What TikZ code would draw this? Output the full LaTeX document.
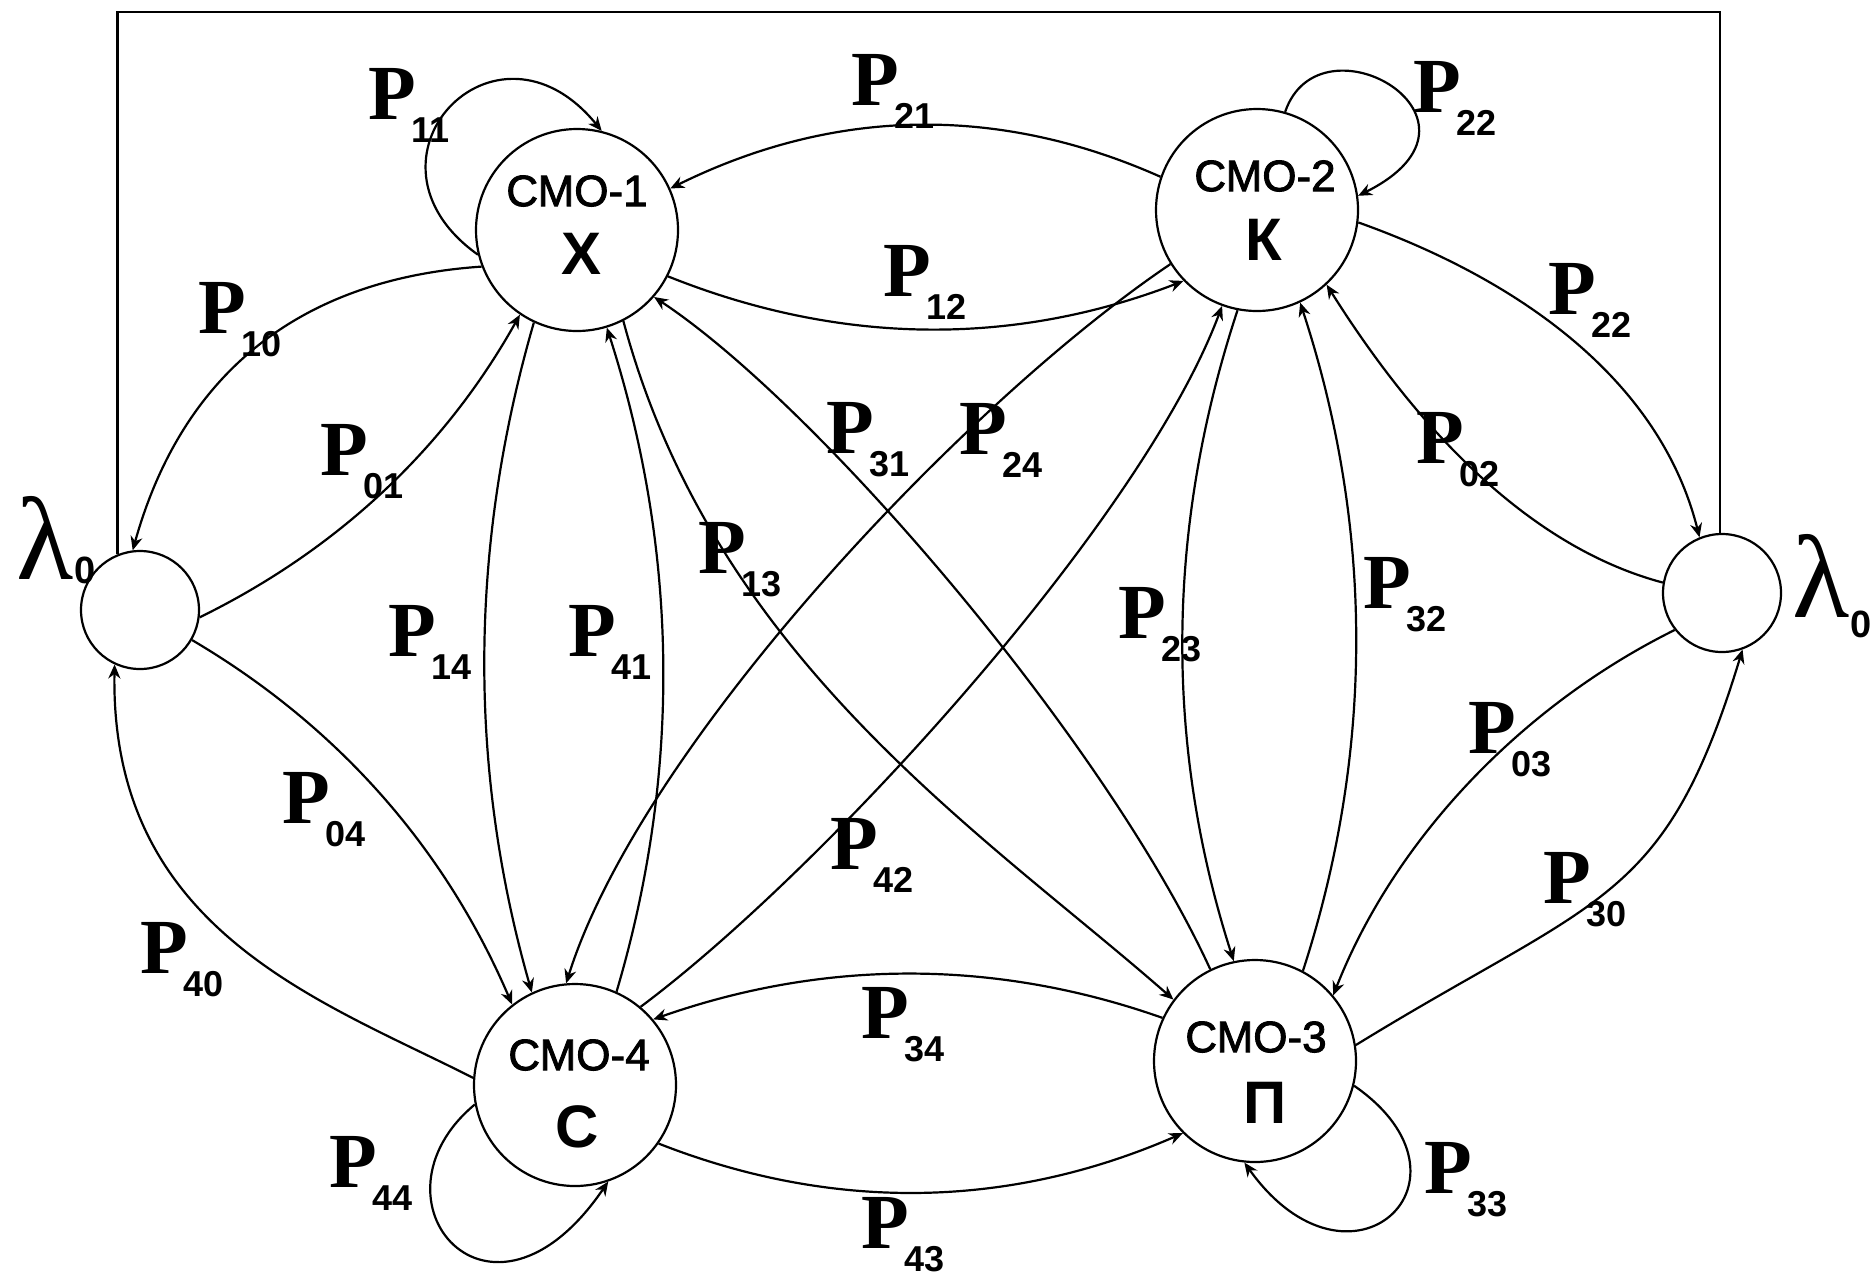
\documentclass[tikz,border=0pt]{standalone}
\usepackage{fontspec}
\setmainfont{Liberation Serif}
\newfontfamily\labsans{Liberation Sans}
\newfontfamily\namesans{Liberation Sans}[FakeBold=2]
\usetikzlibrary{arrows.meta}

% transition probability label: bold serif P with a sans subscript
\newcommand\plab[1]{{\fontsize{39}{39}\selectfont\bfseries P}\kern-2pt\raisebox{-11.5pt}{\fontsize{18}{18}\selectfont\labsans\bfseries #1}}

\begin{document}
\begin{tikzpicture}[x=0.5pt,y=-0.5pt,
  line width=1.1pt,
  queue/.style={circle,draw,line width=1.1pt,minimum size=101pt,inner sep=0pt},
  source/.style={circle,draw,line width=1.1pt,minimum size=59pt,inner sep=0pt},
  qname/.style={font=\fontsize{22}{22}\selectfont\namesans,inner sep=0pt},
  qletter/.style={font=\fontsize{30}{30}\selectfont\labsans\bfseries,inner sep=0pt},
  prob/.style={inner sep=0pt},
  flow/.style={-{Stealth[length=7pt,width=6pt]}},
]
\useasboundingbox (0,0) rectangle (1874,1276);

% queueing systems and external source/sink
\node[queue] (A) at (577,230) {};
\node[queue] (B) at (1257,210) {};
\node[queue] (C) at (1255,1061) {};
\node[queue] (D) at (575,1085) {};
\node[source] (L) at (140,610) {};
\node[source] (R) at (1722,593) {};

\node[qname] (tA) at (577,191) {СМО-1};
\node[qletter] (lA) at (582,254) {Х};
\node[qname] (tB) at (1265,176) {СМО-2};
\node[qletter] (lB) at (1264,240) {К};
\node[qname] (tC) at (1256,1037) {СМО-3};
\node[qletter] (lC) at (1265,1103) {П};
\node[qname] (tD) at (579,1055) {СМО-4};
\node[qletter] (lD) at (577,1127) {С};

% frame joining the two external nodes
\coordinate (ftop) at (118,12);
\draw (L.112) -- (L.112 |- ftop) -| (R.92);

% transitions
\draw[flow] (A.201) .. controls (299,279) and (182,374) .. (L.97);   % P10
\draw[flow] (L.353) .. controls (337,550) and (445,449) .. (A.236);  % P01
\draw[flow] (A.245) .. controls (469,546) and (468,769) .. (D.115);  % P14
\draw[flow] (D.66) .. controls (682,771) and (678,549) .. (A.287);   % P41
\draw[flow] (A.297) .. controls (714,660) and (986,835) .. (C.143);  % P13
\draw[flow] (C.116) .. controls (1106,742) and (819,406) .. (A.319); % P31
\draw[flow] (B.161) .. controls (997,104) and (833,108) .. (A.24);   % P21
\draw[flow] (A.333) .. controls (839,345) and (1012,347) .. (B.224); % P12
\draw[flow] (A.194) .. controls (345,160) and (495,0) .. (A.76);     % P11
\draw[flow] (B.74) .. controls (1320,10) and (1510,120) .. (B.8);    % P22 loop
\draw[flow] (B.353) .. controls (1520,280) and (1660,380) .. (R.112); % P22
\draw[flow] (R.170) .. controls (1518,544) and (1406,411) .. (B.313); % P02
\draw[flow] (B.259) .. controls (1166,527) and (1164,744) .. (C.102); % P23
\draw[flow] (C.62) .. controls (1375,749) and (1373,525) .. (B.295);  % P32
\draw[flow] (R.218) .. controls (1523,705) and (1395,838) .. (C.40);  % P03
\draw[flow] (C.9) .. controls (1600,895) and (1665,905) .. (R.290);   % P30
\draw[flow] (B.212) .. controls (963,404) and (641,746) .. (D.95);    % P24
\draw[flow] (D.50) .. controls (824,870) and (1142,521) .. (B.250);   % P42
\draw[flow] (L.330) .. controls (338,726) and (445,848) .. (D.128);   % P04
\draw[flow] (D.176) .. controls (320,1000) and (110,930) .. (L.245);  % P40
\draw[flow] (C.155) .. controls (993,958) and (822,960) .. (D.40);    % P34
\draw[flow] (D.325) .. controls (833,1212) and (1009,1209) .. (C.225); % P43
\draw[flow] (C.346) .. controls (1490,1180) and (1350,1310) .. (C.264); % P33
\draw[flow] (D.191) .. controls (360,1200) and (490,1355) .. (D.289); % P44

% probability labels
\node[prob] (p11) at (409,105) {\plab{11}};
\node[prob] (p21) at (893,91) {\plab{21}};
\node[prob] (p22a) at (1455,98) {\plab{22}};
\node[prob] (p12) at (925,282) {\plab{12}};
\node[prob] (p22b) at (1590,300) {\plab{22}};
\node[prob] (p10) at (240,320) {\plab{10}};
\node[prob] (p01) at (362,462) {\plab{01}};
\node[prob] (p31) at (868,440) {\plab{31}};
\node[prob] (p24) at (1001,440) {\plab{24}};
\node[prob] (p02) at (1458,450) {\plab{02}};
\node[prob] (p13) at (740,560) {\plab{13}};
\node[prob] (p14) at (430,642) {\plab{14}};
\node[prob] (p41) at (610,642) {\plab{41}};
\node[prob] (p23) at (1160,625) {\plab{23}};
\node[prob] (p32) at (1405,595) {\plab{32}};
\node[prob] (p03) at (1510,740) {\plab{03}};
\node[prob] (p04) at (324,810) {\plab{04}};
\node[prob] (p42) at (872,855) {\plab{42}};
\node[prob] (p30) at (1585,890) {\plab{30}};
\node[prob] (p40) at (182,960) {\plab{40}};
\node[prob] (p34) at (903,1025) {\plab{34}};
\node[prob] (p44) at (371,1173) {\plab{44}};
\node[prob] (p33) at (1466,1180) {\plab{33}};
\node[prob] (p43) at (903,1235) {\plab{43}};

% external flow intensity
\node[inner sep=0pt] (lamL) at (56,540) {\fontsize{59}{59}\selectfont λ\raisebox{-2pt}{\fontsize{19}{19}\selectfont\labsans\bfseries 0}};
\node[inner sep=0pt] (lamR) at (1832,586) {\fontsize{59}{59}\selectfont λ\raisebox{-10pt}{\fontsize{19}{19}\selectfont\labsans\bfseries 0}};
\end{tikzpicture}
\end{document}
